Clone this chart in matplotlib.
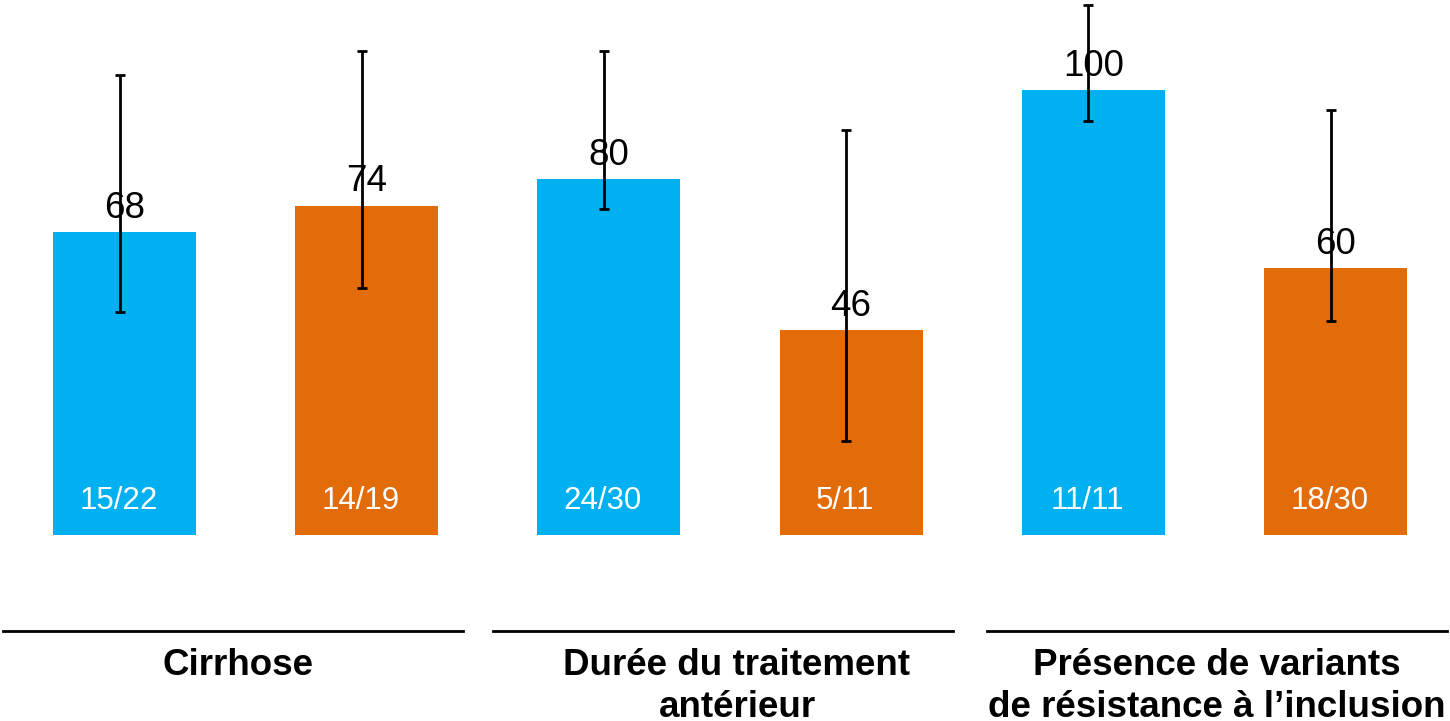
import matplotlib.pyplot as plt

plt.rcParams['font.family'] = ['Liberation Sans', 'DejaVu Sans']

values = [68, 74, 80, 46, 100, 60]
ci_low = [50.1, 55.5, 73.3, 21.1, 93.0, 48.1]
ci_high = [103.4, 108.8, 108.8, 91.0, 119.1, 95.5]
counts = ['15/22', '14/19', '24/30', '5/11', '11/11', '18/30']
colors = ['#00B0F0', '#E36C0A', '#00B0F0', '#E36C0A', '#00B0F0', '#E36C0A']
groups = [['Cirrhose'],
          ['Durée du traitement', 'antérieur'],
          ['Présence de variants', 'de résistance à l\u2019inclusion']]

# layout of the group separators / captions (in bar units)
group_line_x = [0.448, 2.471, 4.511]
group_text_x = [0.467, 2.529, 4.511]

fig = plt.figure(figsize=(14.5, 7.21), dpi=100)
ax = fig.add_axes([0, 0, 1, 1])
ax.set_xlim(-0.514, 5.473)
ax.set_ylim(-41.8, 120.2)
ax.axis('off')

x = list(range(len(values)))
ax.bar(x, values, width=0.59, color=colors)

err_lo = [v - l for v, l in zip(values, ci_low)]
err_hi = [h - v for v, h in zip(values, ci_high)]
ax.errorbar([i - 0.02 for i in x], values, yerr=[err_lo, err_hi], fmt='none',
            ecolor='black', elinewidth=2, capsize=3.5, capthick=2)

for i, v in enumerate(values):
    ax.text(i, v + 3.2, str(v), ha='center', va='baseline', fontsize=26.5)
    ax.text(i - 0.025, 5.8, counts[i], ha='center', va='baseline', fontsize=22.5,
            color='white')

for g, lines in enumerate(groups):
    c = group_line_x[g]
    ax.plot([c - 0.95, c + 0.95], [-21.6, -21.6], color='black', lw=2, clip_on=False)
    for k, line in enumerate(lines):
        ax.text(group_text_x[g], -31.5 - 9.4 * k, line, ha='center', va='baseline',
                fontsize=26.5, fontweight='bold')

fig.savefig('out.png', dpi=100)
